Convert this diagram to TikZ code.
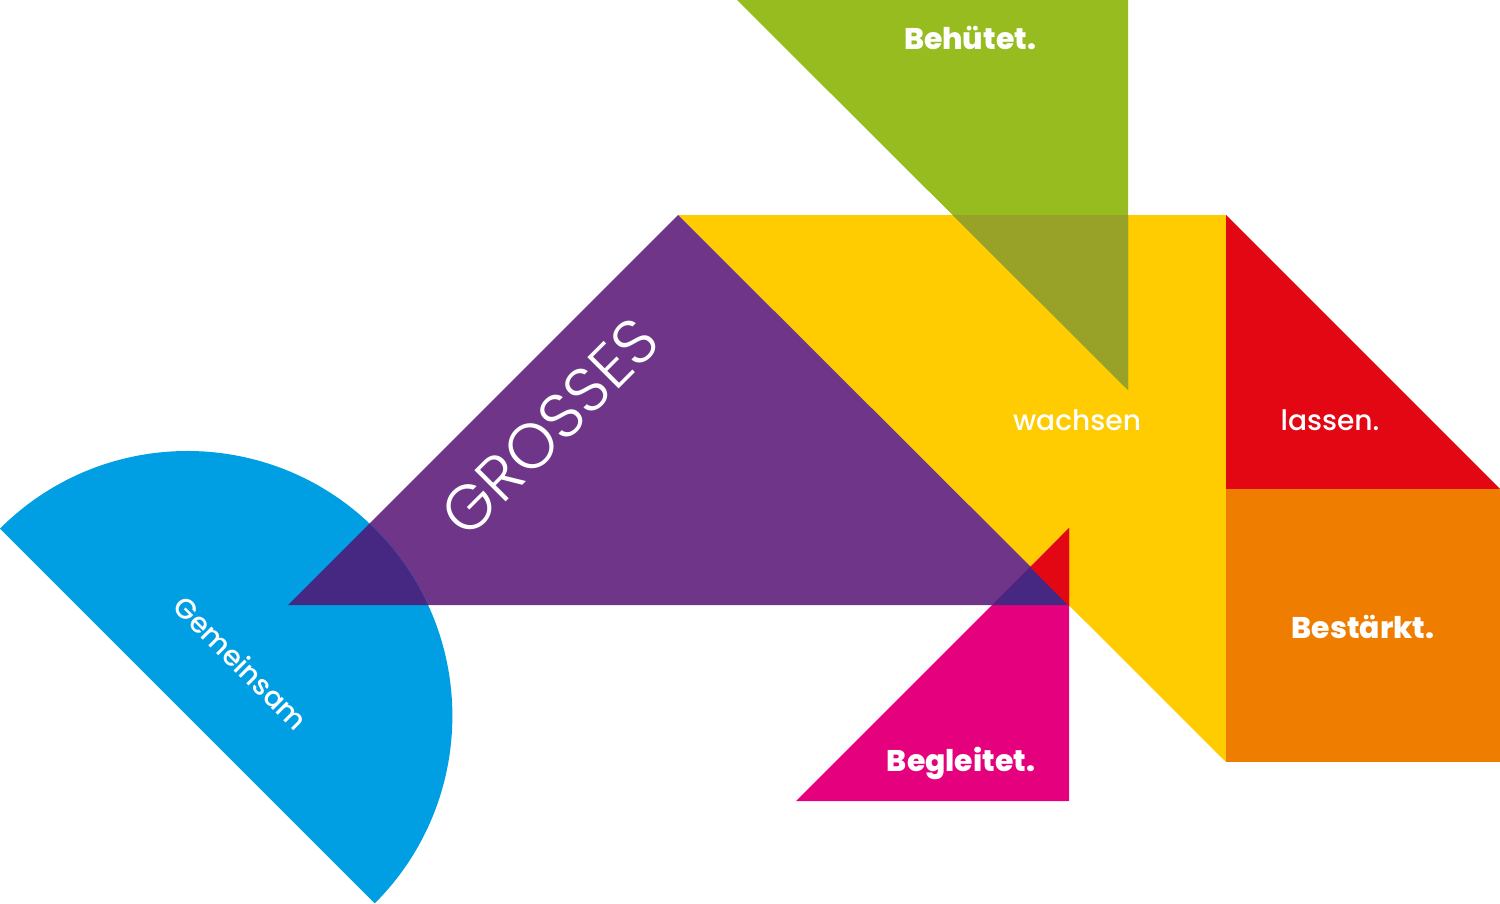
\documentclass[tikz,border=0pt]{standalone}
\usepackage{fontspec}
\setmainfont{Poppins}[BoldFont=* ExtraBold]
\newfontfamily\thinfont{Poppins Light}
\newfontfamily\midfont{Poppins Medium}
\definecolor{leafgreen}{RGB}{150, 188, 31}
\definecolor{sunyellow}{RGB}{254, 204, 0}
\definecolor{signalred}{RGB}{227, 6, 19}
\definecolor{deeporange}{RGB}{238, 125, 0}
\definecolor{grapepurple}{RGB}{110, 53, 137}
\definecolor{hotpink}{RGB}{229, 0, 125}
\definecolor{skyblue}{RGB}{0, 159, 227}
\definecolor{olivemix}{RGB}{152, 161, 40}
\definecolor{indigomix}{RGB}{70, 40, 130}
\usetikzlibrary{positioning}

\begin{document}
\begin{tikzpicture}[x=0.02cm, y=-0.02cm,
    boldlabel/.style={text=white, font=\fontsize{17}{20}\selectfont\bfseries},
    plainlabel/.style={text=white, font=\midfont\fontsize{16}{19}\selectfont}]
  \useasboundingbox (0,0) rectangle (1500,903);
  % tangram pieces
  \def\halfdisc{(0,528.6) arc[start angle=225, end angle=405, radius=265] -- cycle}
  \def\purpletri{(678,215) -- (288,605) -- (1069,605) -- cycle}
  \def\pinktri{(796,801) -- (1069,801) -- (1069,528) -- cycle}
  \fill[sunyellow] (678,215) -- (1226,215) -- (1226,762) -- cycle;
  \fill[leafgreen] (737,0) -- (1128,0) -- (1128,390) -- cycle;
  \fill[olivemix] (952.5,215) -- (1128,215) -- (1128,390) -- cycle;
  \fill[signalred] (1226,215) -- (1500,489) -- (1226,489) -- cycle;
  \fill[deeporange] (1226,489) rectangle (1500,762);
  \fill[grapepurple] \purpletri;
  \fill[skyblue] \halfdisc;
  \fill[hotpink] \pinktri;
  % overlaps
  \begin{scope}
    \clip \purpletri;
    \fill[indigomix] \halfdisc;
    \fill[indigomix] \pinktri;
  \end{scope}
  \fill[signalred] (1030.5,567.5) -- (1069,528) -- (1069,606) -- cycle;
  % labels
  \node[boldlabel] (behuetet) at (970,38) {Behütet.};
  \node[text=white, font=\thinfont\fontsize{36}{40}\selectfont, rotate=45] (grosses) at (550,427) {GROSSES};
  \node[plainlabel] (wachsen) at (1077,420) {wachsen};
  \node[plainlabel] (lassen) at (1330,420) {lassen.};
  \node[boldlabel] (bestaerkt) at (1363,627) {Bestärkt.};
  \node[boldlabel] (begleitet) at (961,763) {Begleitet.};
  \node[plainlabel, rotate=-45] (gemeinsam) at (241,663) {Gemeinsam};
\end{tikzpicture}
\end{document}
